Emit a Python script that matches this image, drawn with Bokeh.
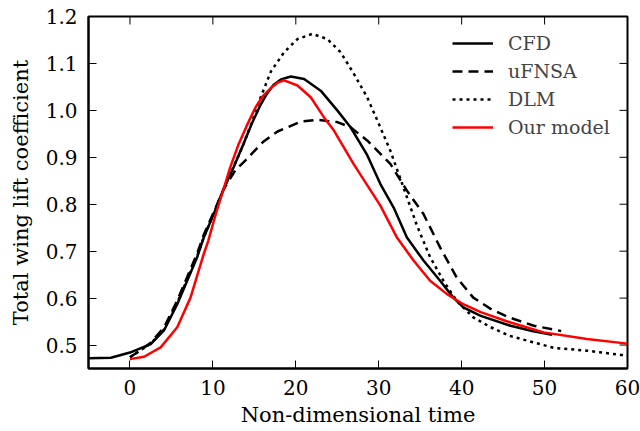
from bokeh.plotting import figure
from bokeh.models import Range1d, FixedTicker
from bokeh.embed import file_html
from bokeh.resources import INLINE

# ---- data ----
cfd_t = [-5, -2.3, 0, 2.5, 4.1, 5.7, 6.9, 8.1, 8.9, 10.1, 11.3, 12.5, 13.7, 14.7, 15.7,
         16.5, 17.3, 18.2, 19.4, 21.0, 23.0, 25.0, 26.6, 28.6, 30.2, 31.8, 33.4, 35.4,
         37.4, 39.0, 40.2, 42.3, 45.9, 48.5, 50.9]
cfd_v = [0.472, 0.473, 0.484, 0.502, 0.531, 0.587, 0.637, 0.687, 0.729, 0.779, 0.833,
         0.879, 0.929, 0.972, 1.010, 1.035, 1.054, 1.066, 1.072, 1.067, 1.042, 1.000,
         0.964, 0.905, 0.843, 0.793, 0.729, 0.680, 0.637, 0.601, 0.580, 0.562, 0.541,
         0.530, 0.522]

ufnsa_t = [0, 1.2, 2.5, 4.1, 5.7, 6.9, 8.1, 8.9, 10.1, 11.3, 12.7, 13.9, 16.0, 17.8,
           20.6, 22.6, 25.0, 26.6, 28.6, 31.4, 33.4, 35.4, 37.4, 39.4, 41.4, 43.5,
           45.7, 48.7, 52.0]
ufnsa_v = [0.474, 0.488, 0.505, 0.537, 0.595, 0.645, 0.695, 0.735, 0.783, 0.832, 0.872,
           0.893, 0.932, 0.955, 0.976, 0.980, 0.975, 0.964, 0.936, 0.886, 0.829, 0.779,
           0.708, 0.644, 0.601, 0.577, 0.559, 0.541, 0.530]

dlm_t = [0, 2.5, 4.1, 5.7, 6.9, 8.1, 8.9, 10.1, 11.3, 12.5, 13.7, 14.7, 15.7, 17.0,
         18.6, 20.2, 22.0, 23.8, 25.4, 27.0, 28.6, 29.8, 31.4, 33.0, 34.6, 36.2, 37.8,
         39.4, 41.4, 43.5, 45.7, 51.1, 55.1, 60.0]
dlm_v = [0.474, 0.503, 0.533, 0.590, 0.640, 0.690, 0.730, 0.780, 0.832, 0.880, 0.928,
         0.975, 1.025, 1.083, 1.124, 1.152, 1.163, 1.152, 1.124, 1.078, 1.028, 0.980,
         0.914, 0.835, 0.755, 0.687, 0.637, 0.594, 0.559, 0.538, 0.520, 0.494, 0.488, 0.477]

model_t = [0, 1.7, 3.7, 5.7, 7.3, 8.9, 9.44, 10.3, 11.3, 12.1, 13.1, 14.1, 15.1, 16.0,
           16.95, 17.8, 18.6, 20.2, 21.8, 23.4, 24.6, 27.0, 30.2, 32.2, 34.2, 36.2, 38.2,
           40.2, 42.3, 45.9, 49.9, 55.1, 60.0]
model_v = [0.470, 0.475, 0.495, 0.538, 0.601, 0.694, 0.722, 0.776, 0.833, 0.879, 0.928,
           0.968, 1.005, 1.030, 1.047, 1.059, 1.064, 1.053, 1.028, 0.985, 0.957, 0.885,
           0.797, 0.729, 0.680, 0.637, 0.609, 0.587, 0.570, 0.548, 0.527, 0.513, 0.503]

x_ticks = [0, 10, 20, 30, 40, 50, 60]
y_ticks = [0.5, 0.6, 0.7, 0.8, 0.9, 1.0, 1.1, 1.2]
y_tick_labels = ["0.5", "0.6", "0.7", "0.8", "0.9", "1.0", "1.1", "1.2"]

X_MIN, X_MAX = -5, 60
Y_MIN, Y_MAX = 0.45, 1.2

FONT = "DejaVu Serif"

p = figure(width=640, height=430, output_backend="svg", toolbar_location=None,
           x_range=Range1d(X_MIN, X_MAX), y_range=Range1d(Y_MIN, Y_MAX),
           min_border_left=88, min_border_right=13, min_border_top=16, min_border_bottom=62,
           x_axis_label="Non-dimensional time", y_axis_label="Total wing lift coefficient")
p.grid.visible = False
p.outline_line_color = "black"
p.outline_line_width = 2
p.background_fill_color = "white"
p.border_fill_color = "white"

p.xaxis.ticker = FixedTicker(ticks=x_ticks)
p.yaxis.ticker = FixedTicker(ticks=y_ticks)
p.yaxis.major_label_overrides = {t: l for t, l in zip(y_ticks, y_tick_labels)}

for ax in p.axis:
    ax.axis_line_width = 2
    ax.axis_line_color = "black"
    ax.major_tick_in = 8
    ax.major_tick_out = 0
    ax.major_tick_line_width = 1
    ax.minor_tick_line_color = None
    ax.major_label_text_font = FONT
    ax.major_label_text_font_size = "20px"
    ax.major_label_text_color = "black"
    ax.axis_label_text_font = FONT
    ax.axis_label_text_font_size = "21px"
    ax.axis_label_text_font_style = "normal"
    ax.axis_label_text_color = "black"

p.xaxis.major_label_standoff = 11
p.xaxis.axis_label_standoff = 5
p.yaxis.major_label_standoff = 11
p.yaxis.axis_label_standoff = 10

# inward ticks on the top and right edges of the frame
p.ray(x=x_ticks, y=[Y_MAX] * len(x_ticks), length=8, length_units="screen",
      angle=-90, angle_units="deg", line_color="black", line_width=1)
p.ray(x=[X_MAX] * len(y_ticks), y=y_ticks, length=8, length_units="screen",
      angle=180, angle_units="deg", line_color="black", line_width=1)

p.line(cfd_t, cfd_v, line_width=2.5, color="black", legend_label="CFD")
p.line(ufnsa_t, ufnsa_v, line_width=2.5, color="black", line_dash="10 6", legend_label="uFNSA")
p.line(dlm_t, dlm_v, line_width=2.5, color="black", line_dash="3 4", legend_label="DLM")
p.line(model_t, model_v, line_width=2.5, color="red", legend_label="Our model")

lg = p.legend[0]
lg.location = (364, 230)
lg.border_line_color = None
lg.background_fill_alpha = 0
lg.label_text_font = FONT
lg.label_text_font_size = "19px"
lg.glyph_width = 41
lg.glyph_height = 22
lg.label_height = 22
lg.spacing = 6
lg.padding = 6
lg.margin = 0
lg.label_standoff = 15

open("out.html", "w").write(file_html(p, INLINE))
